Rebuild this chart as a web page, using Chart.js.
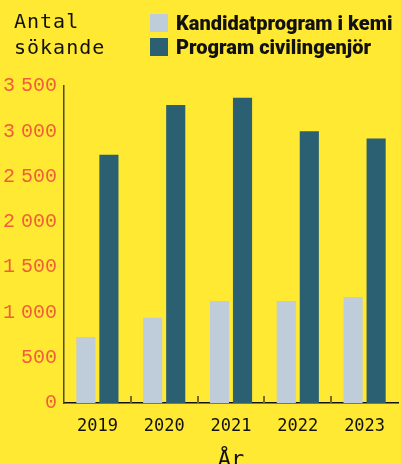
<!DOCTYPE html>
<html>
<head>
<meta charset="utf-8">
<script src="https://cdn.jsdelivr.net/npm/chart.js@4/dist/chart.umd.min.js"></script>
<style>
  html, body { margin: 0; padding: 0; background: #ffe933; overflow: hidden; }
  .wrap { position: relative; width: 401px; height: 464px; overflow: hidden; }
  canvas { position: absolute; left: 0; top: 0; }
  .ytitle { position: absolute; left: 14px; top: 8px; font: 20px "DejaVu Sans Mono", monospace; letter-spacing: 1px; line-height: 26px; color: #111; }
  .legend { position: absolute; left: 150px; top: 11px; font: 900 20px Roboto, sans-serif; color: #111; }
  .legend div { display: flex; align-items: center; height: 24px; white-space: nowrap; }
  .legend span { display: inline-block; width: 18px; height: 18px; margin-right: 8px; }
</style>
</head>
<body>
<div class="wrap">
  <canvas id="c" width="401" height="464"></canvas>
  <div class="ytitle">Antal<br>sökande</div>
  <div class="legend" id="legend"></div>
</div>
<script>
// data
const years = ['2019', '2020', '2021', '2022', '2023'];
const kemi = [730, 940, 1125, 1125, 1170];
const civing = [2740, 3290, 3370, 3000, 2920];
const seriesNames = ['Kandidatprogram i kemi', 'Program civilingenjör'];
const seriesColors = ['#bfccd9', '#2a6072'];

const fmt = v => String(v).replace(/\B(?=(\d{3})+(?!\d))/g, '\u202f');

document.getElementById('legend').innerHTML = seriesNames.map((n, i) =>
  '<div><span style="background:' + seriesColors[i] + '"></span>' + n + '</div>').join('');

// small inward tick marks between the year groups
const betweenTicks = {
  id: 'betweenTicks',
  afterDatasetsDraw(chart) {
    const x = chart.scales.x, ctx = chart.ctx, b = chart.chartArea.bottom;
    ctx.save();
    ctx.strokeStyle = '#7a6a20';
    ctx.lineWidth = 2;
    for (let i = 0; i < years.length - 1; i++) {
      const px = Math.round((x.getPixelForTick(i) + x.getPixelForTick(i + 1)) / 2);
      ctx.beginPath();
      ctx.moveTo(px, b);
      ctx.lineTo(px, b - 7);
      ctx.stroke();
    }
    ctx.restore();
  }
};

new Chart(document.getElementById('c'), {
  type: 'bar',
  data: {
    labels: years,
    datasets: [
      { label: seriesNames[0], data: kemi, backgroundColor: seriesColors[0] },
      { label: seriesNames[1], data: civing, backgroundColor: seriesColors[1] },
    ],
  },
  plugins: [betweenTicks],
  options: {
    responsive: false, animation: false,
    layout: { padding: { top: 86, right: 3, left: 0, bottom: 0 } },
    datasets: { bar: { categoryPercentage: 0.69, barPercentage: 0.83 } },
    plugins: { legend: { display: false }, tooltip: { enabled: false } },
    scales: {
      x: {
        border: { color: '#111', width: 1.5 },
        grid: { display: false, drawTicks: false },
        ticks: { color: '#111', padding: 13, font: { family: 'DejaVu Sans Mono', size: 17 } },
        title: { display: true, text: 'År', color: '#111', padding: { top: 0, bottom: -9 }, font: { family: 'DejaVu Sans Mono', size: 22 } },
        afterFit: s => { s.height = 61; },
      },
      y: {
        min: 0, max: 3500,
        border: { color: '#4d4a2a', width: 1.5 },
        grid: { display: false, drawTicks: false },
        ticks: { stepSize: 500, color: '#ef5f3a', padding: 7, callback: v => fmt(v), font: { family: 'Liberation Mono', size: 20 } },
        afterFit: s => { s.width = 64; },
      },
    },
  },
});
</script>
</body>
</html>
